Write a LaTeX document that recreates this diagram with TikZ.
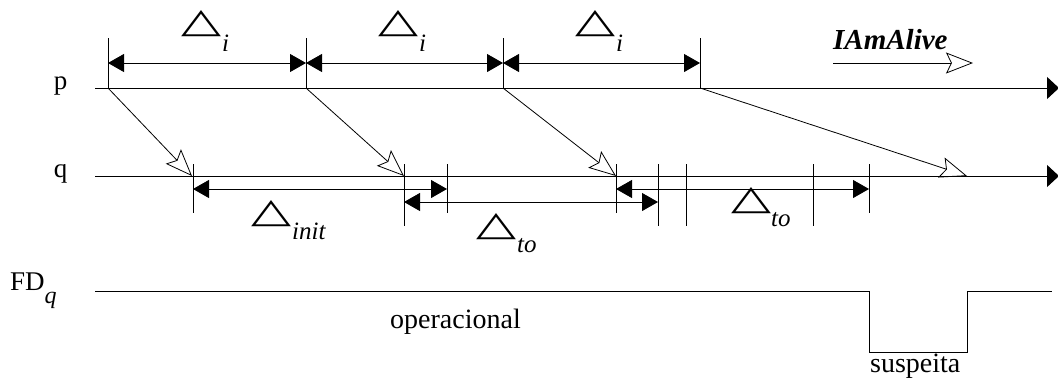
\documentclass[tikz,border=0pt]{standalone}
\usepackage{fontspec}
\setmainfont{Liberation Serif}
\newfontfamily\symf{DejaVu Sans}
\usetikzlibrary{arrows.meta}
\newcommand{\deltri}{\resizebox{40pt}{22pt}{\symf △}}
\begin{document}
\begin{tikzpicture}[x=1pt,y=-1pt,
  axis/.style={line width=1pt,-{Triangle[length=12pt,width=22pt]}},
  tickline/.style={line width=0.8pt},
  dim/.style={line width=0.8pt,{Triangle[length=16pt,width=18pt]}-{Triangle[length=16pt,width=18pt]}},
  msg/.style={line width=0.8pt,-{Stealth[open,length=27pt,width=21pt,inset=5pt,line width=0.8pt]}},
  lbl/.style={inner sep=0pt,anchor=base,font=\fontsize{27}{29}\selectfont},
  tri/.style={inner sep=0pt,anchor=south},
  sub/.style={inner sep=0pt,anchor=base west,font=\fontsize{25}{27}\selectfont\itshape},
  txt/.style={inner sep=0pt,anchor=base west,font=\fontsize{28}{30}\selectfont}]
\useasboundingbox (0,0) rectangle (1058,381);
\clip (0,0) rectangle (1058,381);
% process lines
\coordinate (p0) at (95,88);
\coordinate (pend) at (1059,88);
\coordinate (q0) at (95,176);
\coordinate (qend) at (1059,176);
\node[lbl] (plab) at (60.5,89) {p};
\node[lbl] (qlab) at (60.5,177) {q};
\draw[axis] (p0) -- (pend);
\draw[axis] (q0) -- (qend);
% ticks on p
\foreach \n/\x in {1/108,2/306,3/503,4/700}{
  \coordinate (pt\n) at (\x,38);
  \coordinate (pb\n) at (\x,88);
  \coordinate (pd\n) at (\x,63);
  \draw[tickline] (pt\n) -- (pb\n);
}
\draw[dim] (pd1) -- (pd2);
\draw[dim] (pd2) -- (pd3);
\draw[dim] (pd3) -- (pd4);
% Delta_i labels
\foreach \n/\x in {1/202,2/399,3/596}{
  \node[tri] (ti\n) at (\x,37) {\deltri};
  \node[sub] (si\n) at (\x+20,51) {i};
}
% ticks on q
\foreach \n/\x/\b in {1/193/213,2/404/226,3/447/213,4/616/213,5/658/226,6/686/226,7/813/226,8/869/213}{
  \coordinate (qt\n) at (\x,164);
  \coordinate (qb\n) at (\x,\b);
  \draw[tickline] (qt\n) -- (qb\n);
}
\coordinate (da1) at (193,189);
\coordinate (da2) at (447,189);
\coordinate (db1) at (404,202);
\coordinate (db2) at (658,202);
\coordinate (dc1) at (616,189);
\coordinate (dc2) at (869,189);
\draw[dim] (da1) -- (da2);
\draw[dim] (db1) -- (db2);
\draw[dim] (dc1) -- (dc2);
% messages
\coordinate (qm1) at (192,176);
\coordinate (qm2) at (404,176);
\coordinate (qm3) at (616,176);
\coordinate (qm4) at (967,176);
\draw[msg] (pb1) -- (qm1);
\draw[msg] (pb2) -- (qm2);
\draw[msg] (pb3) -- (qm3);
\draw[msg] (pb4) -- (qm4);
% Delta labels on q
\node[tri] (tinit) at (272,227) {\deltri};
\node[sub] (sinit) at (292,239) {init};
\node[tri] (tto1) at (497,240) {\deltri};
\node[sub] (sto1) at (517,252) {to};
\node[tri] (tto2) at (751,214) {\deltri};
\node[sub] (sto2) at (771,226) {to};
% legend
\node[inner sep=0pt,anchor=base west,font=\fontsize{29}{31}\selectfont\bfseries\itshape] (alive) at (833,49) {IAmAlive};
\coordinate (la) at (833,63);
\coordinate (lb) at (973,63);
\draw[msg] (la) -- (lb);
% failure detector
\node[inner sep=0pt,anchor=base west,font=\fontsize{27}{29}\selectfont] (fd) at (10,290) {FD\raisebox{-13pt}{\fontsize{24}{26}\selectfont\itshape q}};
\coordinate (f0) at (95,291);
\coordinate (f1) at (869,291);
\coordinate (f2) at (869,352);
\coordinate (f3) at (967,352);
\coordinate (f4) at (967,291);
\coordinate (f5) at (1052,291);
\draw[line width=0.9pt] (f0) -- (f1) -- (f2) -- (f3) -- (f4) -- (f5);
\node[txt] (oper) at (390,328) {operacional};
\node[txt] (susp) at (870,372) {suspeita};
\end{tikzpicture}
\end{document}
